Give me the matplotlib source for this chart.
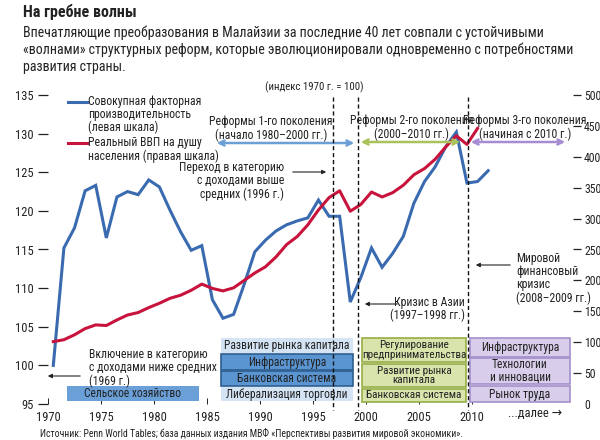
import matplotlib
matplotlib.use("Agg")
import matplotlib.pyplot as plt
import numpy as np
from matplotlib import font_manager
from matplotlib.patches import Rectangle, FancyArrowPatch
from matplotlib.lines import Line2D

W, H = 600, 440

# совокупная факторная производительность, 1970-2011 (левая шкала)
tfp_years = np.arange(1970, 2012)
tfp = [100.0, 115.2, 117.8, 122.6, 123.3, 116.5, 121.8, 122.5, 122.1, 124.0,
       123.1, 120.1, 117.3, 114.9, 115.5, 108.5, 106.1, 106.6, 110.5, 114.7,
       116.2, 117.4, 118.2, 118.7, 119.1, 121.4, 119.3, 119.3, 108.2, 111.4,
       115.2, 112.7, 114.5, 116.7, 121.0, 123.8, 125.7, 128.3, 130.2, 123.6,
       123.8, 125.2]

# реальный ВВП на душу населения, 1970-2010 (правая шкала)
gdp_years = np.arange(1970, 2011)
gdp = [101, 104, 112, 122, 128, 127, 136, 144, 148, 156,
       163, 171, 176, 184, 194, 187, 183, 188, 200, 212,
       222, 238, 258, 271, 290, 314, 334, 345, 312, 323,
       343, 335, 342, 354, 371, 381, 396, 416, 434, 420,
       446]

x_ticks = [1970, 1975, 1980, 1985, 1990, 1995, 2000, 2005, 2010]
left_ticks = [95, 100, 105, 110, 115, 120, 125, 130, 135]
right_ticks = [0, 50, 100, 150, 200, 250, 300, 350, 400, 450, 500]

blue = "#3a6bb0"
red = "#c8143c"

names = {f.name for f in font_manager.fontManager.ttflist}
font = "Liberation Sans"
for cand in ["Liberation Sans Narrow", "Roboto Condensed", "Open Sans Condensed", "Liberation Sans"]:
    if cand in names:
        font = cand
        break
plt.rcParams["font.family"] = [font, "DejaVu Sans"]
plt.rcParams["text.color"] = "#222222"


def fx(x):
    return x / W


def fy(y):
    return 1 - y / H


def txt(x, y, s, size=8.3, ha="center", **kw):
    fig.text(fx(x), fy(y), s, ha=ha, va="center", fontsize=size, **kw)


def box(x0, y0, x1, y1, face, edge=None, lw=1.2):
    r = Rectangle((fx(x0), fy(y1)), fx(x1) - fx(x0), fy(y0) - fy(y1),
                  transform=fig.transFigure, facecolor=face,
                  edgecolor=edge if edge else "none", linewidth=lw if edge else 0)
    fig.add_artist(r)


def arrow(x0, y0, x1, y1, color="#222222", style="-|>", lw=0.8, ms=6):
    a = FancyArrowPatch((fx(x0), fy(y0)), (fx(x1), fy(y1)), transform=fig.transFigure,
                        arrowstyle=style, mutation_scale=ms, color=color, lw=lw)
    fig.add_artist(a)


fig = plt.figure(figsize=(6, 4.4), dpi=100)
ax = fig.add_axes([fx(48), fy(404), (573 - 48) / W, 309 / H])
ax.set_xlim(1970, 2019.5)
ax.set_ylim(95, 135)
for s in ax.spines.values():
    s.set_visible(False)
ax.plot(tfp_years + 0.5, tfp, color=blue, lw=2.2, solid_joinstyle="miter", zorder=3)
ax.set_yticks(left_ticks)
ax.set_xticks(x_ticks)
ax.tick_params(axis="y", length=7, width=0.9, pad=3, labelsize=9, colors="#222222")
ax.tick_params(axis="x", direction="in", length=4, width=0.7, pad=5, labelsize=9, colors="#222222")
ax.yaxis.get_major_ticks()[0].tick1line.set_visible(False)

ax2 = ax.twinx()
ax2.set_ylim(0, 500)
for s in ax2.spines.values():
    s.set_visible(False)
ax2.plot(gdp_years + 0.5, gdp, color=red, lw=2.2, zorder=3)
ax2.set_yticks(right_ticks)
ax2.tick_params(axis="y", length=6, width=0.9, pad=2, labelsize=8.5, colors="#222222")
ax2.yaxis.get_major_ticks()[0].tick2line.set_visible(False)

# заголовок
fig.text(fx(23), fy(12), "На гребне волны", ha="left", va="center", fontsize=11.5, fontweight="bold")
sub = ["Впечатляющие преобразования в Малайзии за последние 40 лет совпали с устойчивыми",
       "«волнами» структурных реформ, которые эволюционировали одновременно с потребностями",
       "развития страны."]
for i, line in enumerate(sub):
    fig.text(fx(23), fy(33 + 17 * i), line, ha="left", va="center", fontsize=10)

txt(314, 87, "(индекс 1970 г. = 100)", size=7.8)

# легенда
fig.add_artist(Line2D([fx(68), fx(87)], [fy(102), fy(102)], color=blue, lw=2.2))
fig.add_artist(Line2D([fx(68), fx(87)], [fy(143), fy(143)], color=red, lw=2.2))
txt(88, 114.5, "Совокупная факторная\nпроизводительность\n(левая шкала)", size=8.5, ha="left", linespacing=1.0)
txt(88, 149.5, "Реальный ВВП на душу\nнаселения (правая шкала)", size=8.5, ha="left", linespacing=1.0)

# вертикальные пунктиры
for xv in [333, 357.5, 467.5]:
    fig.add_artist(Line2D([fx(xv), fx(xv)], [fy(97), fy(410)], color="#111111",
                          lw=1.0, dashes=(3, 2)))

# поколения реформ
arrow(214, 143, 357, 143, color="#6c9fd6", style="<->", lw=1.8, ms=9)
arrow(358, 142, 463, 142, color="#a9c35a", style="<->", lw=1.8, ms=9)
arrow(468, 142, 568, 142, color="#a68cd2", style="<->", lw=1.8, ms=9)
txt(271, 128.5, "Реформы 1-го поколения\n(начало 1980–2000 гг.)", size=8.5, linespacing=1.0)
txt(412, 127.5, "Реформы 2-го поколения\n(2000–2010 гг.)", size=8.5, linespacing=1.0)
txt(525, 127.5, "Реформы 3-го поколения\n(начиная с 2010 г.)", size=8.5, linespacing=1.0)

# аннотации
txt(284, 181, "Переход в категорию\nс доходами выше\nсредних (1996 г.)", size=8.5, ha="right", linespacing=1.0)
arrow(290, 172, 329, 172)
txt(465, 309, "Кризис в Азии\n(1997–1998 гг.)", size=8.5, ha="right", linespacing=1.0)
arrow(400, 304, 362, 304)
txt(516, 278.5, "Мировой\nфинансовый\nкризис\n(2008–2009 гг.)", size=8.5, ha="left", linespacing=1.0)
arrow(513, 265, 473, 265)
txt(89, 368, "Включение в категорию\nс доходами ниже средних\n(1969 г.)", size=8.5, ha="left", linespacing=1.0)
arrow(83, 376, 45, 376)

# блоки реформ
box(67, 386, 199, 401, "#6a9fd8")
txt(133, 393.5, "Сельское хозяйство")

box(221, 338, 353, 353, "#d4e4f4")
box(221, 354, 353, 370, "#5b95d1", "#2e5d8f")
box(221, 371, 353, 386, "#5b95d1", "#2e5d8f")
box(221, 387, 353, 401, "#d4e4f4")
txt(287, 345.5, "Развитие рынка капитала")
txt(287, 362, "Инфраструктура")
txt(287, 378.5, "Банковская система")
txt(287, 394, "Либерализация торговли")

green_f, green_e = "#d9e4ad", "#96ae45"
box(362, 338, 466, 362, green_f, green_e)
box(362, 364, 466, 387, green_f, green_e)
box(362, 389, 466, 402, green_f, green_e)
txt(414, 350, "Регулирование\nпредпринимательства", size=8, linespacing=0.95)
txt(414, 375.5, "Развитие рынка\nкапитала", size=8, linespacing=0.95)
txt(414, 395.5, "Банковская система", size=8)

purp_f, purp_e = "#d8cdea", "#a48fcb"
box(470, 338, 570, 357, purp_f, purp_e)
box(470, 358, 570, 384, purp_f, purp_e)
box(470, 386, 570, 402, purp_f, purp_e)
txt(520, 347.5, "Инфраструктура")
txt(520, 371, "Технологии\nи инновации", linespacing=0.95)
txt(520, 394, "Рынок труда")

txt(535, 413, "...далее →", size=9)

fig.text(fx(40), fy(433), "Источник: Penn World Tables; база данных издания МВФ «Перспективы развития мировой экономики».",
         ha="left", va="center", fontsize=7)

fig.savefig("out.png", dpi=100)
